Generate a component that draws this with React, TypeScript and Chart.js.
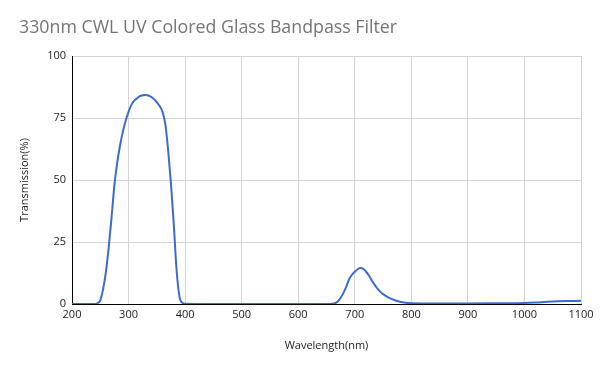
import React, { useEffect, useRef } from "react";
import { Chart, registerables } from "chart.js";

Chart.register(...registerables);

const wavelengths = [
  200, 220, 240, 245, 250, 255, 260, 265, 270, 275, 280, 285, 290, 295, 300, 305, 310, 315, 320, 325,
  330, 335, 340, 345, 350, 355, 360, 365, 370, 375, 380, 385, 390, 395, 400, 450, 500, 550, 600, 650,
  660, 665, 670, 675, 680, 685, 690, 695, 700, 705, 710, 715, 720, 725, 730, 735, 740, 745, 750, 760,
  770, 780, 790, 800, 850, 900, 950, 1000, 1020, 1040, 1060, 1080, 1100,
];
const transmission = [
  0, 0, 0, 0.3, 1.5, 6, 13, 23, 35, 48, 57, 64, 69.5, 74, 77.5, 80.3, 82, 83, 83.8, 84.2,
  84.3, 84.1, 83.5, 82.6, 81.3, 79.8, 77.5, 72.5, 62, 48.5, 32, 13.5, 3, 0.5, 0.1, 0, 0, 0, 0, 0,
  0.1, 0.3, 1, 2.5, 4.5, 7, 10, 11.8, 13, 14, 14.5, 14.2, 13, 11.5, 9.5, 7.8, 6.2, 5, 4, 2.6,
  1.6, 0.9, 0.5, 0.3, 0.2, 0.2, 0.3, 0.4, 0.6, 0.9, 1.1, 1.2, 1.3,
];
const xTicks = [200, 300, 400, 500, 600, 700, 800, 900, 1000, 1100];
const yTicks = [0, 25, 50, 75, 100];
const chartTitle = "330nm CWL UV Colored Glass Bandpass Filter";
const xTitle = "Wavelength(nm)";
const yTitle = "Transmission(%)";

const titlePlugin = {
  id: "leftTitle",
  afterDraw(chart: any) {
    const ctx = chart.ctx;
    ctx.save();
    ctx.font = "17.8px 'Open Sans'";
    ctx.fillStyle = "#757575";
    ctx.textAlign = "left";
    ctx.textBaseline = "middle";
    ctx.fillText(chartTitle, 19, 28);
    ctx.restore();
  },
};

export default function App() {
  const ref = useRef<HTMLCanvasElement | null>(null);
  useEffect(() => {
    document.body.style.margin = "0";
    const canvas = ref.current!;
    const chart = new Chart(canvas, {
      type: "line",
      data: {
        datasets: [
          {
            data: wavelengths.map((w, i) => ({ x: w, y: transmission[i] })),
            borderColor: "#3e6bd2",
            borderWidth: 2,
            pointRadius: 0,
            fill: false,
            cubicInterpolationMode: "monotone",
          },
        ],
      },
      options: {
        responsive: false,
        animation: false,
        layout: { padding: { top: 56, right: 19, left: 0, bottom: 0 } },
        plugins: { legend: { display: false }, tooltip: { enabled: false }, title: { display: false } },
        scales: {
          x: {
            type: "linear",
            min: 200,
            max: 1100,
            afterBuildTicks: (s: any) => {
              s.ticks = xTicks.map((v) => ({ value: v }));
            },
            afterFit: (s: any) => {
              s.height = 67;
            },
            ticks: {
              color: "#222",
              font: { family: "'Open Sans'", size: 11 },
              padding: 4,
              maxRotation: 0,
              callback: (v: any) => String(v),
            },
            grid: { color: "#d4d4d4", drawTicks: false },
            border: { color: "#000", width: 1 },
            title: {
              display: true,
              text: xTitle,
              color: "#222",
              font: { family: "'Open Sans'", size: 11 },
              padding: { top: 4, bottom: 19 },
            },
          },
          y: {
            min: 0,
            max: 100,
            afterBuildTicks: (s: any) => {
              s.ticks = yTicks.map((v) => ({ value: v }));
            },
            afterFit: (s: any) => {
              s.width = 72;
            },
            ticks: { color: "#222", font: { family: "'Open Sans'", size: 11 }, padding: 6, callback: (v: any) => String(v) },
            grid: { color: "#d4d4d4", drawTicks: false },
            border: { color: "#000", width: 1 },
            title: {
              display: true,
              text: yTitle,
              color: "#222",
              font: { family: "'Open Sans'", size: 11 },
              padding: { top: 18, bottom: 4 },
            },
          },
        },
      },
      plugins: [titlePlugin],
    } as any);
    return () => chart.destroy();
  }, []);
  return <canvas ref={ref} width={600} height={371} style={{ display: "block" }} />;
}
